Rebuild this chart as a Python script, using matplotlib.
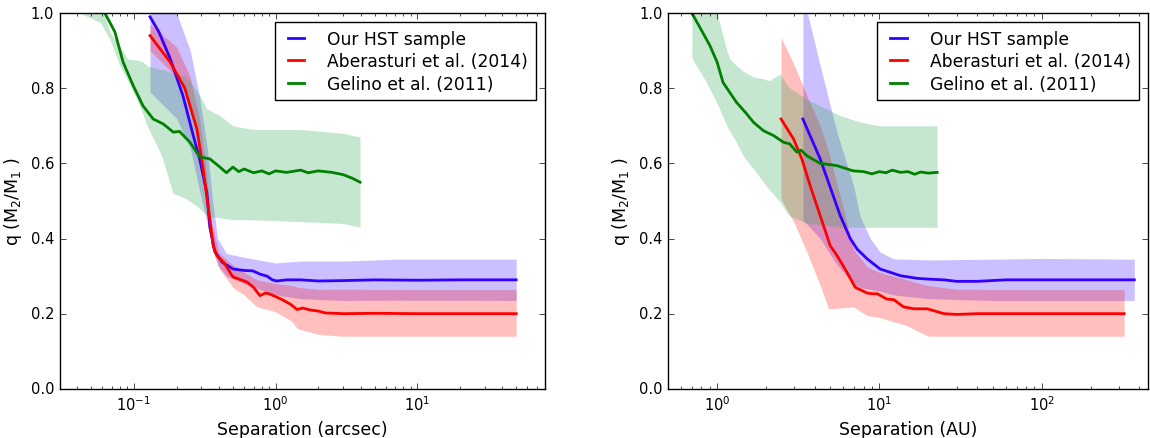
import matplotlib
matplotlib.use('Agg')
import matplotlib.pyplot as plt

# --- panel 1: separation in arcsec ---
hst_sep_arc = [0.13, 0.15, 0.18, 0.222, 0.26, 0.292, 0.328, 0.344, 0.373, 0.42, 0.5, 0.6, 0.69, 0.78,
               0.87, 0.95, 1.02, 1.2, 1.5, 2.0, 3.0, 5.0, 10, 20, 50]
hst_q_arc = [0.99, 0.95, 0.88, 0.78, 0.68, 0.61, 0.52, 0.43, 0.365, 0.337, 0.319, 0.315, 0.314, 0.305,
             0.30, 0.29, 0.287, 0.29, 0.29, 0.287, 0.288, 0.29, 0.289, 0.29, 0.29]
hst_band_sep_arc = [0.13, 0.2, 0.25, 0.29, 0.33, 0.36, 0.39, 0.45, 0.6, 1.0, 1.5, 3.0, 7.0, 50]
hst_up_arc = [1.2, 1.0, 0.9, 0.78, 0.64, 0.50, 0.40, 0.36, 0.35, 0.335, 0.34, 0.34, 0.345, 0.345]
hst_lo_arc = [0.79, 0.72, 0.64, 0.53, 0.44, 0.37, 0.33, 0.30, 0.28, 0.25, 0.24, 0.235, 0.236, 0.235]

ab_sep_arc = [0.13, 0.18, 0.229, 0.279, 0.307, 0.33, 0.344, 0.363, 0.386, 0.43, 0.5, 0.63, 0.7, 0.776,
              0.85, 0.914, 1.077, 1.265, 1.42, 1.56, 1.75, 2.0, 2.24, 3.0, 5.0, 10, 20, 50]
ab_q_arc = [0.94, 0.87, 0.80, 0.69, 0.59, 0.50, 0.45, 0.38, 0.354, 0.337, 0.298, 0.284, 0.27, 0.248,
            0.255, 0.252, 0.24, 0.226, 0.211, 0.215, 0.21, 0.207, 0.202, 0.20, 0.201, 0.20, 0.20, 0.20]
ab_band_sep_arc = [0.13, 0.2, 0.25, 0.29, 0.32, 0.35, 0.4, 0.5, 0.6, 0.74, 1.0, 1.3, 1.43, 2.0, 3.0, 10, 50]
ab_up_arc = [0.97, 0.91, 0.83, 0.72, 0.60, 0.45, 0.36, 0.33, 0.31, 0.29, 0.28, 0.275, 0.27, 0.265,
             0.265, 0.264, 0.264]
ab_lo_arc = [0.90, 0.83, 0.76, 0.64, 0.52, 0.39, 0.32, 0.27, 0.25, 0.218, 0.205, 0.18, 0.16, 0.145,
             0.14, 0.14, 0.14]

gel_sep_arc = [0.058, 0.0624, 0.0734, 0.084, 0.0989, 0.116, 0.137, 0.161, 0.19, 0.21, 0.249, 0.292,
               0.344, 0.405, 0.45, 0.5, 0.55, 0.6, 0.7, 0.8, 0.9, 1.0, 1.2, 1.5, 1.7, 2.0, 2.5, 3.0,
               3.5, 3.95]
gel_q_arc = [1.04, 1.0, 0.95, 0.869, 0.807, 0.753, 0.718, 0.705, 0.683, 0.685, 0.656, 0.617, 0.612,
             0.59, 0.575, 0.59, 0.578, 0.585, 0.575, 0.58, 0.572, 0.58, 0.576, 0.582, 0.575, 0.58,
             0.576, 0.57, 0.56, 0.55]
gel_band_sep_arc = [0.0415, 0.058, 0.0677, 0.0796, 0.0905, 0.105, 0.116, 0.124, 0.153, 0.16, 0.189,
                    0.237, 0.292, 0.328, 0.405, 0.5, 0.7, 1.5, 3.0, 3.95]
gel_up_arc = [1.05, 1.03, 0.95, 0.91, 0.878, 0.875, 0.87, 0.86, 0.85, 0.85, 0.84, 0.83, 0.78, 0.745,
              0.727, 0.70, 0.69, 0.69, 0.68, 0.67]
gel_lo_arc = [1.0, 0.975, 0.93, 0.86, 0.82, 0.77, 0.73, 0.70, 0.63, 0.61, 0.52, 0.505, 0.48, 0.46,
              0.455, 0.45, 0.45, 0.445, 0.44, 0.43]

# --- panel 2: separation in AU ---
hst_sep_au = [3.38, 4.32, 5.74, 6.62, 7.29, 8.4, 10.1, 13.5, 17.1, 20, 25, 30, 40, 60, 100, 200, 372]
hst_q_au = [0.718, 0.612, 0.461, 0.40, 0.372, 0.346, 0.319, 0.301, 0.294, 0.292, 0.29, 0.286, 0.286,
            0.29, 0.29, 0.29, 0.29]
hst_band_sep_au = [3.38, 4.32, 5.48, 6.95, 7.6, 8.8, 10.1, 12.2, 20, 50, 100, 372]
hst_up_au = [1.05, 0.86, 0.683, 0.54, 0.46, 0.40, 0.364, 0.346, 0.343, 0.345, 0.347, 0.345]
hst_lo_au = [0.45, 0.40, 0.33, 0.28, 0.27, 0.265, 0.26, 0.25, 0.24, 0.235, 0.235, 0.235]

ab_sep_au = [2.48, 2.96, 3.33, 3.75, 4.32, 4.98, 5.48, 6.32, 7.11, 8.4, 9.0, 9.7, 11.1, 12.3, 14.1,
             16.3, 19.7, 25, 30, 40, 60, 100, 200, 322]
ab_q_au = [0.718, 0.665, 0.612, 0.54, 0.461, 0.381, 0.355, 0.31, 0.27, 0.255, 0.253, 0.253, 0.239,
           0.237, 0.218, 0.213, 0.213, 0.20, 0.198, 0.20, 0.20, 0.20, 0.20, 0.20]
ab_band_sep_au = [2.48, 3.0, 3.58, 4.32, 4.87, 6.0, 6.95, 8.4, 10, 14.8, 17.9, 20, 30, 100, 322]
ab_up_au = [0.935, 0.86, 0.78, 0.70, 0.63, 0.48, 0.37, 0.325, 0.31, 0.29, 0.28, 0.275, 0.265, 0.264, 0.264]
ab_lo_au = [0.505, 0.44, 0.364, 0.275, 0.213, 0.216, 0.218, 0.195, 0.19, 0.168, 0.15, 0.14, 0.14, 0.14, 0.14]

gel_sep_au = [0.70, 0.8, 0.905, 1.0, 1.09, 1.32, 1.5, 1.68, 1.93, 2.23, 2.57, 2.8, 3.1, 3.3, 3.58,
              4.32, 5.48, 6.9, 8, 9, 10, 11, 12, 13.5, 15, 16.5, 18, 20, 22.7]
gel_q_au = [1.0, 0.955, 0.913, 0.87, 0.815, 0.762, 0.735, 0.709, 0.687, 0.674, 0.656, 0.652, 0.63,
            0.635, 0.62, 0.60, 0.594, 0.58, 0.578, 0.572, 0.578, 0.575, 0.582, 0.576, 0.578, 0.571,
            0.577, 0.574, 0.576]
gel_band_sep_au = [0.70, 0.85, 1.0, 1.15, 1.2, 1.32, 1.45, 1.68, 1.93, 2.1, 2.45, 2.69, 2.82, 3.58,
                   4.75, 5.74, 7.6, 10, 22.7]
gel_up_au = [1.05, 1.03, 1.0, 0.90, 0.878, 0.86, 0.845, 0.83, 0.825, 0.82, 0.838, 0.81, 0.80, 0.77,
             0.745, 0.727, 0.71, 0.70, 0.70]
gel_lo_au = [0.88, 0.82, 0.76, 0.70, 0.685, 0.655, 0.62, 0.585, 0.55, 0.53, 0.497, 0.47, 0.46, 0.44,
             0.435, 0.43, 0.43, 0.43, 0.43]

labels = ['Our HST sample', 'Aberasturi et al. (2014)', 'Gelino et al. (2011)']
c_blue = '#3300ff'
c_red = '#ff0000'
c_green = '#008000'
c_green_band = '#33aa55'

plt.style.use('classic')
plt.rcParams['figure.facecolor'] = 'white'
plt.rcParams['savefig.facecolor'] = 'white'
plt.rcParams['mathtext.fontset'] = 'dejavusans'
plt.rcParams['mathtext.default'] = 'regular'

fig = plt.figure(figsize=(11.5, 4.39), dpi=100)
ax1 = fig.add_axes([0.052, 0.112, 0.422, 0.856])
ax2 = fig.add_axes([0.581, 0.112, 0.417, 0.856])


def panel(ax, hst, ab, gel, xlabel, xlim):
    # bands first, then lines on top
    ax.fill_between(hst[2], hst[4], hst[3], color=c_blue, alpha=0.25, lw=0)
    ax.fill_between(ab[2], ab[4], ab[3], color=c_red, alpha=0.25, lw=0)
    ax.fill_between(gel[2], gel[4], gel[3], color=c_green_band, alpha=0.28, lw=0)
    ax.plot(hst[0], hst[1], color=c_blue, lw=2, label=labels[0])
    ax.plot(ab[0], ab[1], color=c_red, lw=2, label=labels[1])
    ax.plot(gel[0], gel[1], color=c_green, lw=2, label=labels[2])
    ax.set_xscale('log')
    ax.set_xlim(xlim)
    ax.set_ylim(0, 1.0)
    ax.set_yticks([0.0, 0.2, 0.4, 0.6, 0.8, 1.0])
    ax.set_xlabel(xlabel, fontsize=12.5)
    ax.set_ylabel('q (M$_2$/M$_1$ )', fontsize=12.5)
    ax.tick_params(labelsize=10.5)
    ax.legend(loc='upper right', fontsize=12.3, handlelength=1.58, handletextpad=1.05,
              labelspacing=0.26, borderaxespad=0.53, borderpad=0.45, fancybox=False)


panel(ax1,
      (hst_sep_arc, hst_q_arc, hst_band_sep_arc, hst_up_arc, hst_lo_arc),
      (ab_sep_arc, ab_q_arc, ab_band_sep_arc, ab_up_arc, ab_lo_arc),
      (gel_sep_arc, gel_q_arc, gel_band_sep_arc, gel_up_arc, gel_lo_arc),
      'Separation (arcsec)', (0.03, 80))
panel(ax2,
      (hst_sep_au, hst_q_au, hst_band_sep_au, hst_up_au, hst_lo_au),
      (ab_sep_au, ab_q_au, ab_band_sep_au, ab_up_au, ab_lo_au),
      (gel_sep_au, gel_q_au, gel_band_sep_au, gel_up_au, gel_lo_au),
      'Separation (AU)', (0.5, 450))

plt.savefig('out.png', dpi=100)
